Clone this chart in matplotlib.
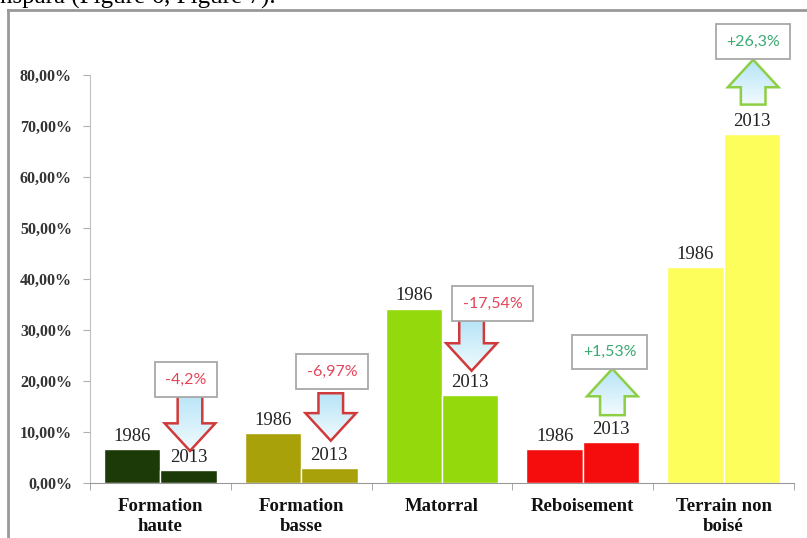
import matplotlib
matplotlib.use('Agg')
import matplotlib.pyplot as plt
import numpy as np
from matplotlib.patches import FancyArrow
from matplotlib.lines import Line2D
from matplotlib.colors import LinearSegmentedColormap

# ---------------- data ----------------
categories = ['Formation\nhaute', 'Formation\nbasse', 'Matorral', 'Reboisement', 'Terrain non\nboisé']
years = ['1986', '2013']
values_1986 = [6.7, 9.8, 34.2, 6.6, 42.3]
values_2013 = [2.5, 2.9, 17.3, 8.0, 68.4]
changes = ['-4,2%', '-6,97%', '-17,54%', '+1,53%', '+26,3%']
ytick_values = [0, 10, 20, 30, 40, 50, 60, 70, 80]
ytick_labels = ['0,00%', '10,00%', '20,00%', '30,00%', '40,00%', '50,00%', '60,00%', '70,00%', '80,00%']

# ---------------- styles / layout ----------------
bar_colors = ['#1b3a07', '#a9a10a', '#93d90c', '#f50c0c', '#fdfd5c']
serif = 'Liberation Serif'
sans = 'Lato'
red_txt = '#e4445a'
green_txt = '#3aa972'
red_edge = '#d03a3a'
green_edge = '#8ccf45'

# annotation layout (data units): box centre x offset, box centre y, arrow tail y, arrow tip y
box_dx = [-0.03, 0.01, 0.15, -0.02, 0.0]
box_y = [20.3, 21.8, 35.2, 25.7, 86.5]
arrow_tail = [17.8, 17.6, 32.0, 13.3, 74.2]
arrow_tip = [6.3, 8.3, 22.0, 22.4, 83.0]

fig = plt.figure(figsize=(8.07, 5.38), dpi=100)
ax = fig.add_axes([90/807, 55/538, 704/807, 469.2/538])

x = np.arange(len(categories))
w = 0.4
ax.bar(x - w/2, values_1986, w, color=bar_colors, edgecolor='white', linewidth=1.0, zorder=2)
ax.bar(x + w/2, values_2013, w, color=bar_colors, edgecolor='white', linewidth=1.0, zorder=2)

for i in range(len(categories)):
    ax.annotate(years[0], (x[i] - w/2, values_1986[i]), xytext=(0, 3), textcoords='offset points',
                ha='center', va='bottom', fontsize=13.5, family=serif, color='#222222', zorder=5)
    ax.annotate(years[1], (x[i] + w/2, values_2013[i]), xytext=(0, 3), textcoords='offset points',
                ha='center', va='bottom', fontsize=13.5, family=serif, color='#222222', zorder=5)

cmap = LinearSegmentedColormap.from_list('g', ['#f2fbfe', '#b6e4f7'])
grad = np.linspace(0, 1, 100).reshape(-1, 1)
for i in range(len(categories)):
    up = changes[i].startswith('+')
    ax_x = x[i] + 0.21
    tail, tip = arrow_tail[i], arrow_tip[i]
    arr = FancyArrow(ax_x, tail, 0, tip - tail, width=0.175, head_width=0.36,
                     head_length=5.4, length_includes_head=True,
                     fc='none', ec=green_edge if up else red_edge, lw=1.8, zorder=4)
    ax.add_patch(arr)
    lo, hi = min(tail, tip), max(tail, tip)
    im = ax.imshow(grad, extent=[ax_x - 0.2, ax_x + 0.2, lo, hi], origin='lower',
                   aspect='auto', cmap=cmap, zorder=3, interpolation='bilinear')
    im.set_clip_path(arr)
    ax.text(x[i] + 0.21 + box_dx[i], box_y[i], changes[i], ha='center', va='center',
            fontsize=11.5, family=sans, color=green_txt if up else red_txt, zorder=6,
            bbox=dict(boxstyle='square,pad=0.65', fc='white', ec='#a8a8a8', lw=1.3))

ax.set_xlim(-0.5, len(categories) - 0.5)
ax.set_ylim(0, 92)
ax.set_yticks(ytick_values)
ax.set_yticklabels(ytick_labels, family=serif, fontweight='bold', fontsize=11.5, color='#333333')
ax.set_xticks(x)
ax.set_xticklabels(categories, family=serif, fontweight='bold', fontsize=13.5, color='#111111',
                   linespacing=1.2)
ax.set_xticks(np.arange(len(categories) + 1) - 0.5, minor=True)
ax.tick_params(axis='x', which='major', length=0, pad=11)
ax.tick_params(axis='x', which='minor', length=5, color='#9a9a9a', direction='out')
ax.tick_params(axis='y', length=5, color='#b0b0b0', pad=8)
for s in ['top', 'right']:
    ax.spines[s].set_visible(False)
ax.spines['left'].set_bounds(0, 80)
ax.spines['left'].set_color('#c0c0c0')
ax.spines['bottom'].set_color('#9a9a9a')

# page frame and cut-off caption line
fig.add_artist(Line2D([8/807, 8/807], [0, 1 - 10/538], transform=fig.transFigure, color='#999999', lw=2))
fig.add_artist(Line2D([8/807, 1], [1 - 10/538, 1 - 10/538], transform=fig.transFigure, color='#999999', lw=2))
fig.text(0.0, 1 - 4/538, 'nspara (Figure 6, Figure 7).', family=serif, fontsize=18,
         va='baseline', ha='left', color='black')

fig.savefig('out.png', dpi=100)
